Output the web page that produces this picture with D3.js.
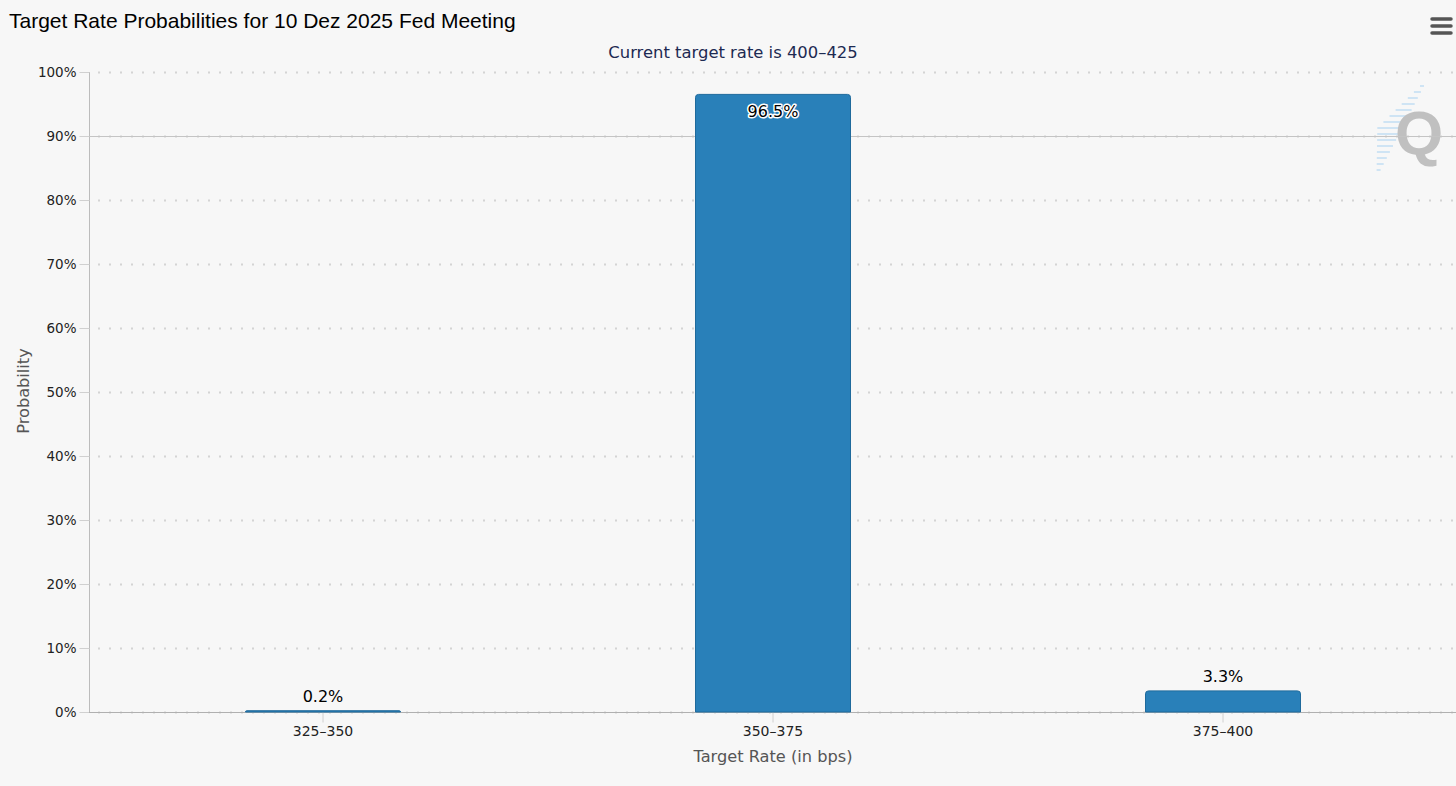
<!DOCTYPE html>
<html><head><meta charset="utf-8">
<script src="https://cdn.jsdelivr.net/npm/d3@7"></script>
<style>
html,body{margin:0;padding:0;background:#f7f7f7;}
svg{display:block;}
</style></head>
<body>
<svg id="chart" width="1456" height="786"></svg>
<script>
const categories = ["325-350", "350-375", "375-400"];
const categoryLabels = ["325–350", "350–375", "375–400"];
const probabilities = [0.2, 96.5, 3.3];
const yTicks = [0, 10, 20, 30, 40, 50, 60, 70, 80, 90, 100];
const titleText = "Target Rate Probabilities for 10 Dez 2025 Fed Meeting";
const subtitleText = "Current target rate is 400–425";
const xTitle = "Target Rate (in bps)";
const yTitle = "Probability";

(function () {
const svg = d3.select("#chart");
const W = 1456, H = 786;
const pLeft = 89, pRight = 1456, pTop = 72, pBottom = 712;
const sans = "'DejaVu Sans', 'Open Sans', sans-serif";

svg.append("rect").attr("width", W).attr("height", H).attr("fill", "#f7f7f7");

const x = d3.scaleBand().domain(categories).range([98, 1448]).paddingInner(0).paddingOuter(0);
const y = d3.scaleLinear().domain([0, 100]).range([pBottom, pTop]);
const barW = 155;

// watermark
const wm = svg.append("g");
for (let i = 0; i < 15; i++) {
  const yy = 86 + i * 6;
  const cx = 1424 - i * 3.1;
  const len = 4 + Math.min(i, 14 - i) * 3;
  wm.append("line").attr("x1", cx - len).attr("x2", cx).attr("y1", yy).attr("y2", yy)
    .attr("stroke", "#cfe4f4").attr("stroke-width", 2);
}
wm.append("text").attr("x", 1419).attr("y", 154).attr("text-anchor", "middle")
  .attr("font-family", "'Liberation Sans', Arial, sans-serif").attr("font-weight", "bold")
  .attr("font-size", 62).attr("fill", "#c0c0c0").text("Q");

// gridlines
const grid = svg.append("g");
yTicks.forEach(t => {
  grid.append("line").attr("x1", pLeft).attr("x2", pRight).attr("y1", y(t) + 0.5).attr("y2", y(t) + 0.5)
    .attr("stroke", "#d4d4d4").attr("stroke-width", 2).attr("stroke-dasharray", "2,9")
    .attr("stroke-dashoffset", -9);
});
grid.append("line").attr("x1", pLeft).attr("x2", pRight).attr("y1", y(90) + 0.5).attr("y2", y(90) + 0.5)
  .attr("stroke", "#c4c4c4").attr("stroke-width", 1);

// y axis
const yAxis = d3.axisLeft(y).tickValues(yTicks).tickFormat(d => d + "%").tickSize(10).tickPadding(3);
const gy = svg.append("g").attr("transform", `translate(${pLeft + 0.5},0)`).call(yAxis);
gy.select(".domain").attr("stroke", "#bcbcbc").attr("d", `M0,${pTop}V${pBottom}`);
gy.selectAll(".tick line").attr("stroke", "#d0d0d0");
gy.selectAll(".tick text").attr("font-family", sans).attr("font-size", 13.5).attr("fill", "#222").attr("dy", "0.36em");

// x axis
const xAxis = d3.axisBottom(x).tickFormat((d, i) => categoryLabels[i]).tickSize(10).tickPadding(4);
const gx = svg.append("g").attr("transform", `translate(0,${pBottom + 0.5})`).call(xAxis);
gx.select(".domain").attr("stroke", "#b0b0b0").attr("d", `M${pLeft},0H${pRight}`);
gx.selectAll(".tick line").attr("stroke", "#d0d0d0");
gx.selectAll(".tick text").attr("font-family", sans).attr("font-size", 14).attr("fill", "#222");

// bars with rounded top corners
const r = 3;
function barPath(d, i) {
  const cx = x(categories[i]) + x.bandwidth() / 2;
  const x0 = cx - barW / 2, x1 = cx + barW / 2;
  const y0 = y(d), y1 = y(0);
  const rr = Math.min(r, (y1 - y0));
  return `M${x0},${y1}V${y0 + rr}Q${x0},${y0} ${x0 + rr},${y0}H${x1 - rr}Q${x1},${y0} ${x1},${y0 + rr}V${y1}Z`;
}
svg.append("g").selectAll("path").data(probabilities).join("path")
  .attr("d", (d, i) => barPath(d, i))
  .attr("fill", "#2980b9").attr("stroke", "#1f6a9c").attr("stroke-width", 1);

// data labels
const labels = svg.append("g");
probabilities.forEach((d, i) => {
  const cx = x(categories[i]) + x.bandwidth() / 2;
  const inside = d > 50;
  const ly = inside ? y(d) + 23 : y(d) - 9;
  const t = labels.append("text").attr("x", cx).attr("y", ly).attr("text-anchor", "middle")
    .attr("font-family", sans).attr("font-size", 16).attr("fill", "#000").text(d.toFixed(1) + "%");
  if (inside) {
    t.attr("stroke", "#fff").attr("stroke-width", 3).attr("paint-order", "stroke").attr("stroke-linejoin", "round");
  }
});

// titles
svg.append("text").attr("x", 9).attr("y", 28).attr("font-family", "'Liberation Sans', Arial, sans-serif")
  .attr("font-size", 21).attr("fill", "#000").text(titleText);
svg.append("text").attr("x", 733).attr("y", 58).attr("text-anchor", "middle")
  .attr("font-family", sans).attr("font-size", 16.4).attr("fill", "#1d2a52").text(subtitleText);
svg.append("text").attr("x", 773).attr("y", 762).attr("text-anchor", "middle")
  .attr("font-family", sans).attr("font-size", 16.2).attr("fill", "#555").text(xTitle);
svg.append("text").attr("transform", "translate(29,391) rotate(-90)").attr("text-anchor", "middle")
  .attr("font-family", sans).attr("font-size", 16.2).attr("fill", "#555").text(yTitle);

// menu icon
[19, 26, 33].forEach(yy => {
  svg.append("line").attr("x1", 1432).attr("x2", 1451).attr("y1", yy).attr("y2", yy)
    .attr("stroke", "#555").attr("stroke-width", 3.5).attr("stroke-linecap", "round");
});
})();
</script>
</body></html>
